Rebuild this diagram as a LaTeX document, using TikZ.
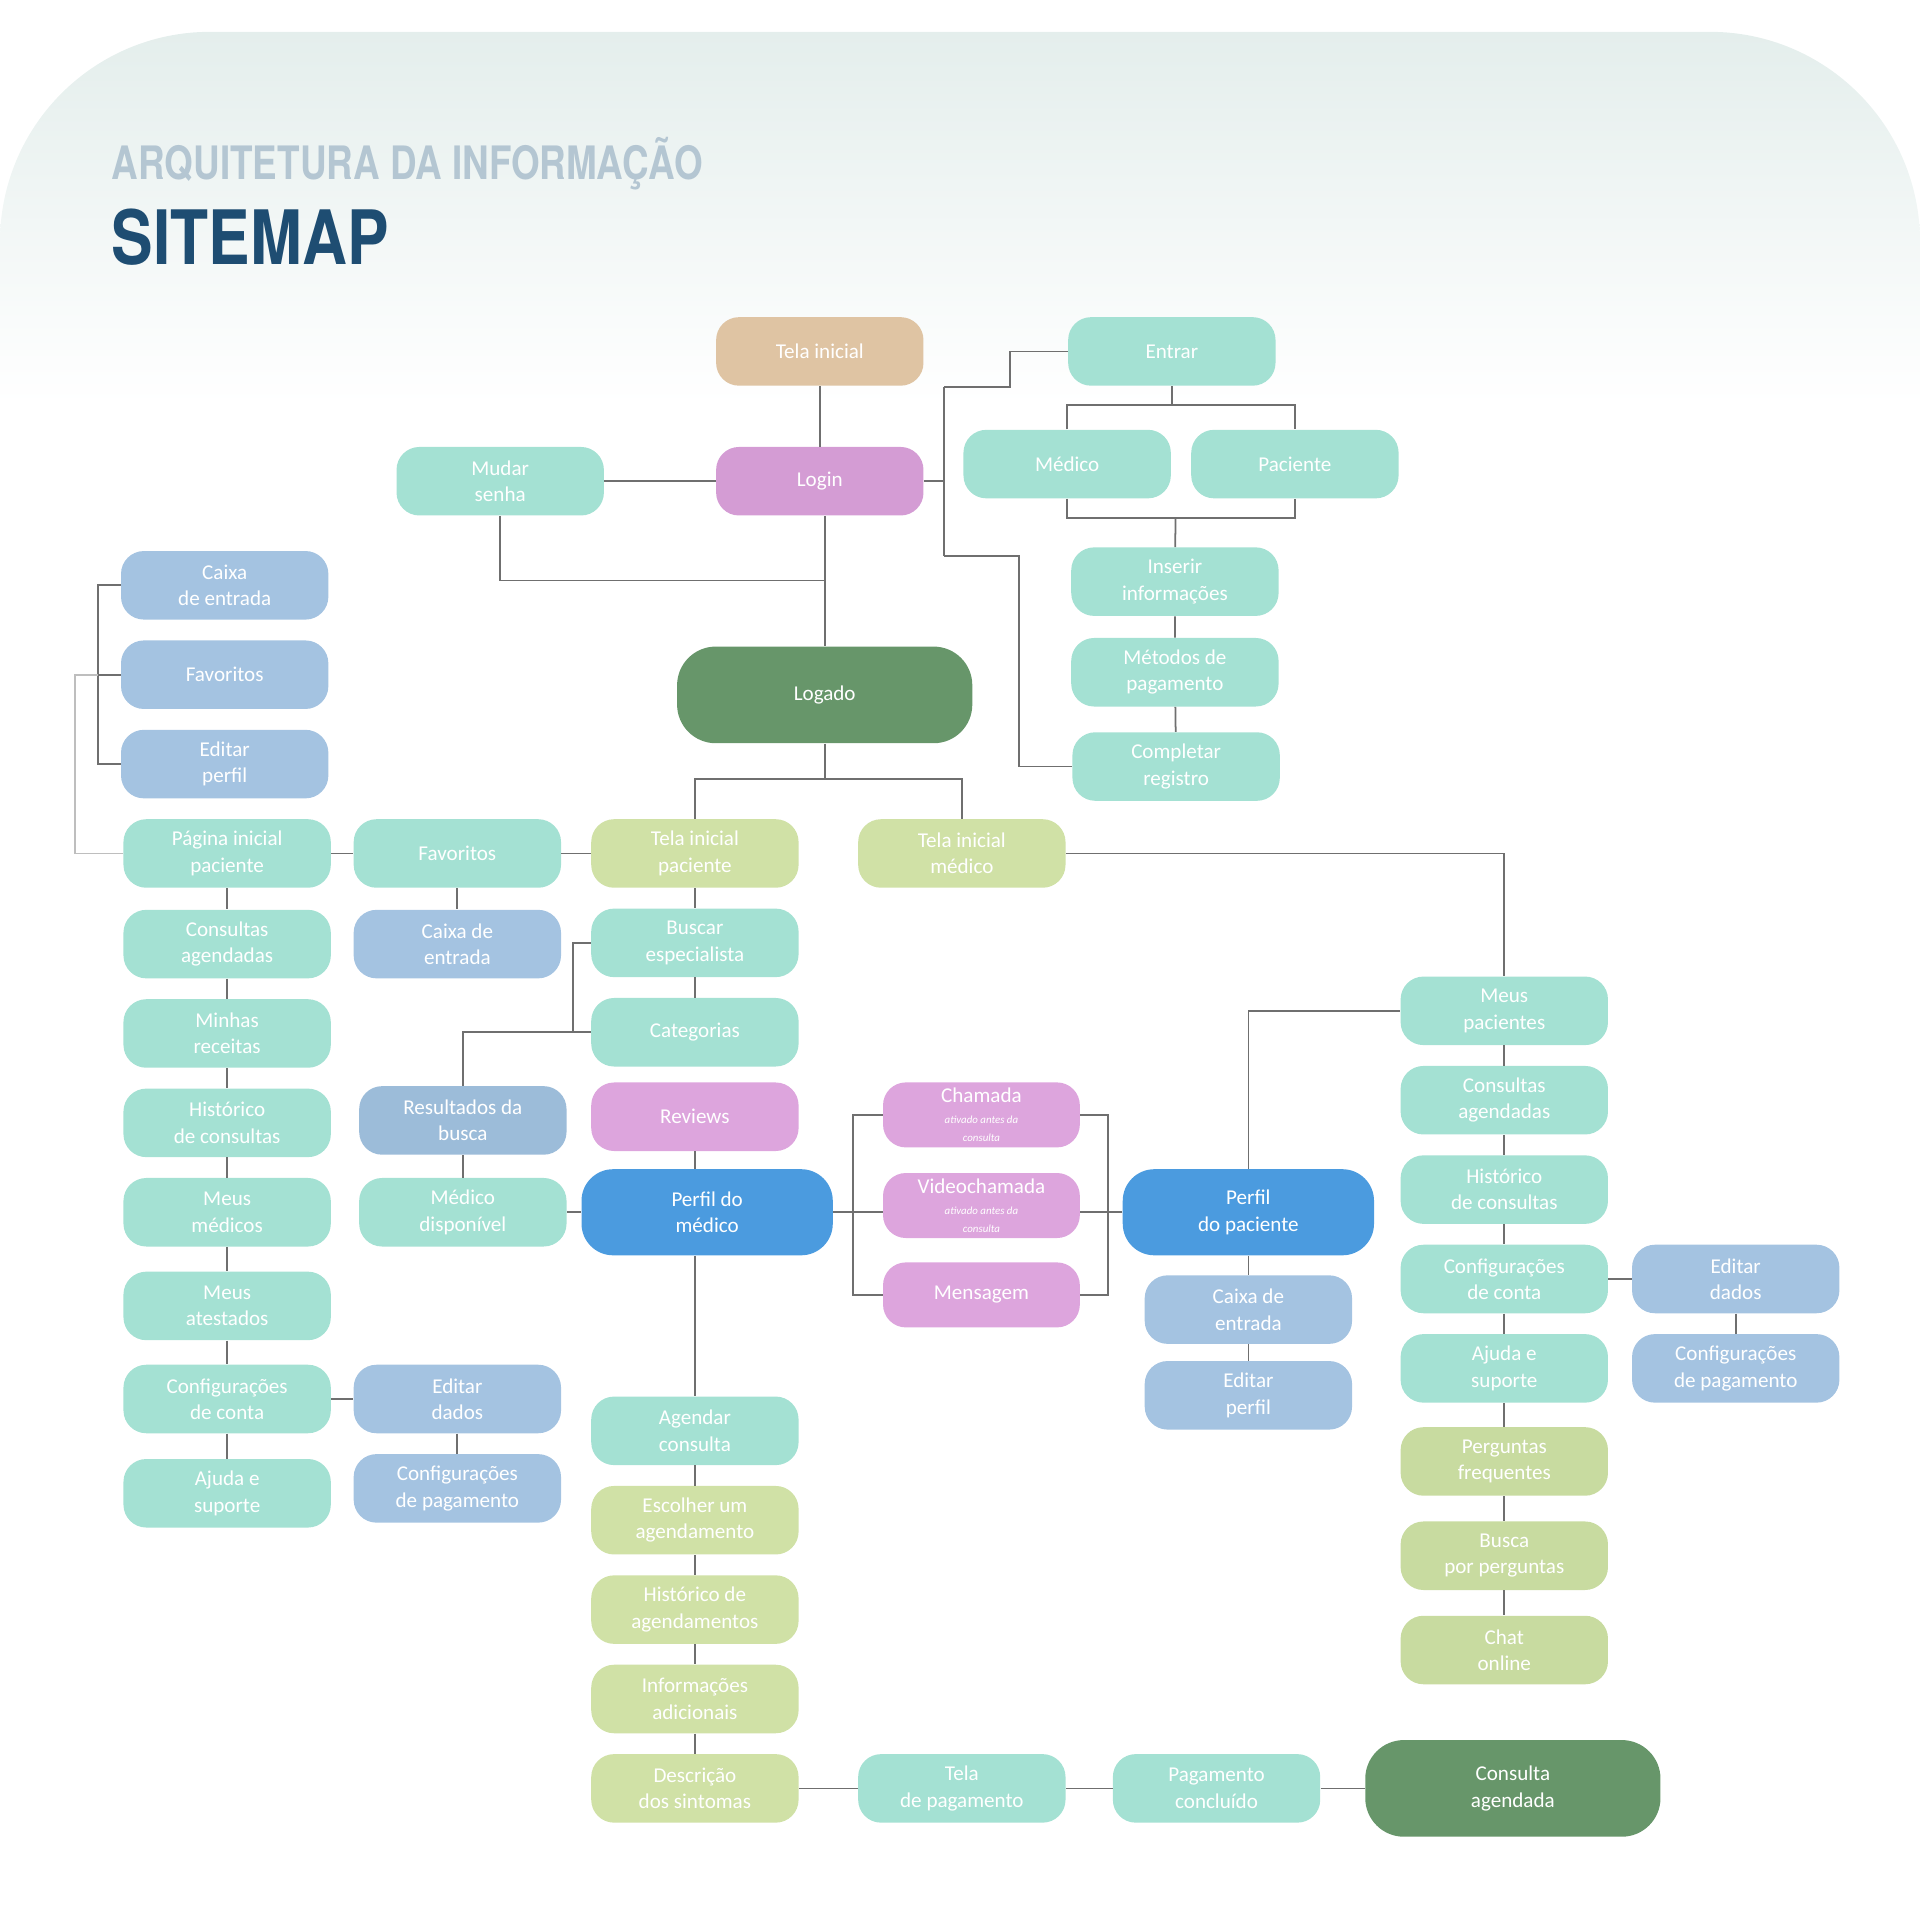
\documentclass[tikz,border=0pt]{standalone}
\usepackage{fontspec}
\setmainfont{Carlito}
\newfontfamily\headfont{TeX Gyre Heros}
\usetikzlibrary{positioning,calc}
\definecolor{smint}{HTML}{A4E1D3}
\definecolor{ssky}{HTML}{A4C3E1}
\definecolor{sskyd}{HTML}{9CBCD9}
\definecolor{slime}{HTML}{D0E1A6}
\definecolor{ssage}{HTML}{C8DBA0}
\definecolor{splum}{HTML}{D49CD4}
\definecolor{sorchid}{HTML}{DDA5DD}
\definecolor{stan}{HTML}{DFC4A3}
\definecolor{sazure}{HTML}{4B9BDF}
\definecolor{sforest}{HTML}{67966A}
\definecolor{sline}{HTML}{6F6F6F}
\definecolor{spanel}{HTML}{E4EEEC}
\definecolor{stitle}{HTML}{B4C6D2}
\definecolor{snavy}{HTML}{1E4D72}
\tikzset{
  box/.style={rounded corners=13pt,minimum width=118pt,minimum height=39pt,inner sep=1pt,align=center,text=white,font=\fontsize{12}{15}\selectfont},
  mint/.style={box,fill=smint},
  sky/.style={box,fill=ssky},
  skyd/.style={box,fill=sskyd},
  lime/.style={box,fill=slime},
  sage/.style={box,fill=ssage},
  plum/.style={box,fill=splum},
  orchid/.style={box,fill=sorchid},
  tan/.style={box,fill=stan},
  azure/.style={box,fill=sazure,minimum width=143pt,minimum height=49pt,rounded corners=18pt},
  forest/.style={box,fill=sforest,minimum width=168pt,minimum height=55pt,rounded corners=22pt},
  small/.style={minimum width=112pt,minimum height=37pt},
  link/.style={draw=sline,line width=1pt},
}
\newcommand{\subnote}[1]{{\fontsize{6.2}{7}\selectfont\itshape #1}}

\begin{document}
\begin{tikzpicture}[x=0.2449mm,y=-0.2449mm]
  \useasboundingbox (0,0) rectangle (1568,1556);
  % fundo
  \shade[top color=spanel,bottom color=white,rounded corners=4.2cm] (0,330) -- (0,26) -- (1568,26) -- (1568,330);
  \node[anchor=base west,inner sep=0,text=stitle,font=\headfont\bfseries\fontsize{26.2}{30}\selectfont] (sub) at (91,147) {\scalebox{0.80}[1]{ARQUITETURA DA INFORMAÇÃO}};
  \node[anchor=base west,inner sep=0,text=snavy,font=\headfont\bfseries\fontsize{42.7}{46}\selectfont] (ttl) at (91,216) {\scalebox{0.83}[1]{SITEMAP}};

  % entrada e login
  \node[tan] (tini) at (669.5,287) {Tela inicial};
  \node[plum] (login) at (669.5,393) {Login};
  \node[mint] (msenha) at (408.5,393) {Mudar\\senha};
  \node[mint] (entrar) at (957,287) {Entrar};
  \node[mint] (smed) at (871.5,379) {Médico};
  \node[mint] (spac) at (1057.5,379) {Paciente};
  \node[mint] (inser) at (959.5,475) {Inserir\\informações};
  \node[mint] (metod) at (959.5,549) {Métodos de\\pagamento};
  \node[mint] (compl) at (960.5,626) {Completar\\registro};
  \node[forest] (logado) at (673.5,567.5) {Logado};

  % lado do paciente
  \node[sky] (lcaixa) at (183.5,478) {Caixa\\de entrada};
  \node[sky] (lfav) at (183.5,551) {Favoritos};
  \node[sky] (lperf) at (183.5,624) {Editar\\perfil};
  \node[mint] (pini) at (185.5,697) {Página inicial\\paciente};
  \node[mint] (fav) at (373.5,697) {Favoritos};
  \node[lime] (tpac) at (567.5,697) {Tela inicial\\paciente};
  \node[lime] (tmed) at (785.5,697) {Tela inicial\\médico};
  \node[mint] (consag) at (185.5,771) {Consultas\\agendadas};
  \node[mint] (receit) at (185.5,844) {Minhas\\receitas};
  \node[mint] (hist) at (185.5,917) {Histórico\\de consultas};
  \node[mint] (meusm) at (185.5,990) {Meus\\médicos};
  \node[mint] (atest) at (185.5,1066.5) {Meus\\atestados};
  \node[mint] (lconf) at (185.5,1142.5) {Configurações\\de conta};
  \node[mint] (lajuda) at (185.5,1219.5) {Ajuda e\\suporte};
  \node[sky] (caixa) at (373.5,771) {Caixa de\\entrada};
  \node[sky] (ledit) at (373.5,1142.5) {Editar\\dados};
  \node[sky] (lpag) at (373.5,1215.5) {Configurações\\de pagamento};

  % busca e perfil do medico
  \node[mint] (busc) at (567.5,770) {Buscar\\especialista};
  \node[mint] (categ) at (567.5,843) {Categorias};
  \node[skyd] (resul) at (378,915) {Resultados da\\busca};
  \node[orchid] (revw) at (567.5,912) {Reviews};
  \node[mint] (mdisp) at (378,990) {Médico\\disponível};
  \node[azure] (pmed) at (577.5,990) {Perfil do\\médico};
  \node[orchid,small] (cham) at (801.5,910.5) {Chamada\\[-3pt]\subnote{ativado antes da}\\[-5pt]\subnote{consulta}};
  \node[orchid,small] (video) at (801.5,984.5) {Videochamada\\[-3pt]\subnote{ativado antes da}\\[-5pt]\subnote{consulta}};
  \node[orchid,small] (msg) at (801.5,1057.5) {Mensagem};
  \node[mint] (agend) at (567.5,1168.5) {Agendar\\consulta};
  \node[lime] (escol) at (567.5,1241.5) {Escolher um\\agendamento};
  \node[lime] (hagen) at (567.5,1314.5) {Histórico de\\agendamentos};
  \node[lime] (infad) at (567.5,1387.5) {Informações\\adicionais};
  \node[lime] (desc) at (567.5,1460.5) {Descrição\\dos sintomas};
  \node[mint] (tpag) at (785.5,1460.5) {Tela\\de pagamento};
  \node[mint] (pconc) at (993.5,1460.5) {Pagamento\\concluído};
  \node[forest] (cagend) at (1235.5,1460.5) {Consulta\\agendada};

  % lado do medico
  \node[azure] (ppac) at (1019.5,990) {Perfil\\do paciente};
  \node[sky] (pcaixa) at (1019.5,1069.5) {Caixa de\\entrada};
  \node[sky] (pperf) at (1019.5,1139.5) {Editar\\perfil};
  \node[mint] (mpac) at (1228.5,825.5) {Meus\\pacientes};
  \node[mint] (rconsag) at (1228.5,898.5) {Consultas\\agendadas};
  \node[mint] (rhist) at (1228.5,971.5) {Histórico\\de consultas};
  \node[mint] (rconf) at (1228.5,1044.5) {Configurações\\de conta};
  \node[mint] (rajuda) at (1228.5,1117.5) {Ajuda e\\suporte};
  \node[sage] (perg) at (1228.5,1193.5) {Perguntas\\frequentes};
  \node[sage] (buscp) at (1228.5,1270.5) {Busca\\por perguntas};
  \node[sage] (chat) at (1228.5,1347.5) {Chat\\online};
  \node[sky] (redit) at (1417.5,1044.5) {Editar\\dados};
  \node[sky] (rpag) at (1417.5,1117.5) {Configurações\\de pagamento};

  % ligacoes
  \coordinate (j1) at (673.5,474);
  \coordinate (r1) at (771,316);
  \coordinate (r2) at (771,454);
  \coordinate (e1) at (957,331);
  \coordinate (e2) at (960,423);
  \coordinate (g1) at (673.5,636);
  \coordinate (k1) at (80,551);
  \coordinate (b1) at (468,843);
  \draw[link] (tini) -- (login);
  \draw[link] (msenha) -- (login);
  \draw[link] (login.south -| logado) -- (logado);
  \draw[link] (msenha) |- (j1);
  \draw[link] (r1) -- (r2);
  \draw[link] (login) -- (login -| r1);
  \draw[link] (r1) -- ++(54,0) |- (entrar);
  \draw[link] (r2) -- ++(61,0) |- (compl);
  \draw[link] (entrar) -- (e1);
  \draw[link] (smed) |- (e1) -| (spac);
  \draw[link] (smed) |- (e2) -| (spac);
  \draw[link] (e2) -- (inser);
  \draw[link] (inser) -- (metod) -- (compl);
  \draw[link] (logado) -- (g1);
  \draw[link] (tpac) |- (g1) -| (tmed);
  \draw[link] (tmed) -| (mpac);
  \draw[link] (lcaixa) -| (k1) |- (lperf);
  \draw[link] (lfav) -- (k1);
  \draw[link,draw=sline!45] (pini.west) -- ++(-39,0) |- (k1);
  \draw[link] (pini) -- (consag) -- (receit) -- (hist) -- (meusm) -- (atest) -- (lconf) -- (lajuda);
  \draw[link] (pini) -- (fav) -- (tpac);
  \draw[link] (fav) -- (caixa);
  \draw[link] (lconf) -- (ledit) -- (lpag);
  \draw[link] (tpac) -- (busc) -- (categ);
  \draw[link] (busc) -| (b1);
  \draw[link] (categ) -| (resul);
  \draw[link] (resul) -- (mdisp) -- (pmed);
  \draw[link] (revw) -- (revw |- pmed.north);
  \draw[link] (pmed.south -| agend) -- (agend) -- (escol) -- (hagen) -- (infad) -- (desc) -- (tpag) -- (pconc) -- (cagend);
  \draw[link] (cham.west) -- ++(-24,0) |- (msg.west);
  \draw[link] (cham.east) -- ++(23,0) |- (msg.east);
  \draw[link] (pmed) -- (pmed -| video.west);
  \draw[link] (ppac) -- (ppac -| video.east);
  \draw[link] (ppac) |- (mpac);
  \draw[link] (ppac) -- (pcaixa) -- (pperf);
  \draw[link] (mpac) -- (rconsag) -- (rhist) -- (rconf) -- (rajuda) -- (perg) -- (buscp) -- (chat);
  \draw[link] (rconf) -- (redit) -- (rpag);
\end{tikzpicture}
\end{document}
